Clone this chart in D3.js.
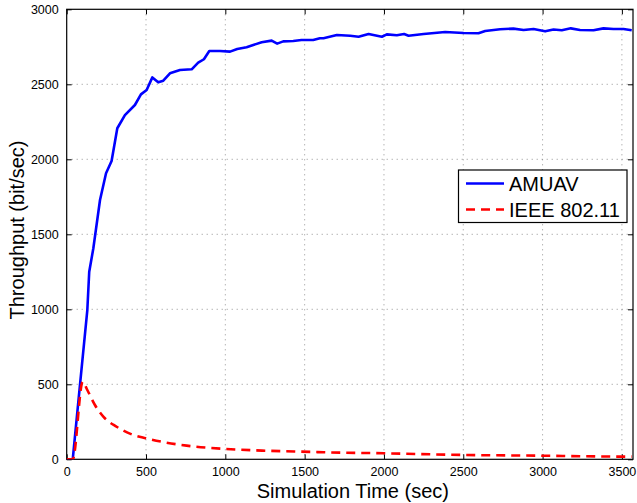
<!DOCTYPE html>
<html>
<head>
<meta charset="utf-8">
<script src="https://cdn.jsdelivr.net/npm/d3@7"></script>
<style>
  html, body { margin: 0; padding: 0; background: #fff; }
  svg { display: block; font-family: "Liberation Sans", Arial, Helvetica, sans-serif; }
</style>
</head>
<body>
<svg id="chart" width="637" height="503"></svg>
<script>
// ---- Data ----
const amuavTime = [0, 38, 84, 130, 142, 168, 210, 248, 283, 319, 367, 430, 468, 504, 540, 577, 609, 651, 714, 788, 829, 865, 899, 966, 1030, 1075, 1134, 1176, 1229, 1292, 1327, 1365, 1428, 1480, 1554, 1596, 1619, 1703, 1787, 1840, 1903, 1987, 2018, 2081, 2127, 2155, 2250, 2386, 2502, 2596, 2638, 2732, 2816, 2880, 2943, 3016, 3069, 3121, 3178, 3236, 3321, 3384, 3447, 3510, 3562];
const amuavThroughput = [0, 0, 500, 995, 1250, 1407, 1729, 1907, 1989, 2207, 2295, 2362, 2433, 2462, 2546, 2513, 2524, 2573, 2595, 2600, 2644, 2667, 2722, 2722, 2718, 2735, 2747, 2762, 2780, 2791, 2771, 2786, 2789, 2795, 2795, 2807, 2807, 2829, 2824, 2817, 2835, 2817, 2833, 2827, 2835, 2824, 2835, 2849, 2842, 2840, 2855, 2867, 2871, 2862, 2869, 2853, 2865, 2860, 2873, 2862, 2860, 2873, 2869, 2869, 2860];

const ieeeTime = [0, 38, 101, 130, 178, 231, 315, 420, 498, 630, 756, 1002, 1260, 1554, 1619, 2000, 2500, 3000, 3510, 3562];
const ieeeThroughput = [0, 0, 517, 462, 362, 284, 217, 162, 140, 111, 91, 69, 57, 49, 47, 40, 29, 24, 18, 18];

const seriesNames = ["AMUAV", "IEEE 802.11"];
const xTicks = [0, 500, 1000, 1500, 2000, 2500, 3000, 3500];
const yTicks = [0, 500, 1000, 1500, 2000, 2500, 3000];
const xLabel = "Simulation Time (sec)";
const yLabel = "Throughput (bit/sec)";

// ---- Layout ----
const svg = d3.select("#chart");
const m = { left: 66.7, right: 633, top: 9.3, bottom: 459.3 };
const x = d3.scaleLinear().domain([0, 3570]).range([m.left, m.right]);
const y = d3.scaleLinear().domain([0, 3000]).range([m.bottom, m.top]);

// Grid
const grid = svg.append("g");
grid.selectAll("line.gx").data(xTicks.filter(d => d > 0)).join("line")
  .attr("x1", d => x(d)).attr("x2", d => x(d))
  .attr("y1", m.top).attr("y2", m.bottom)
  .attr("stroke", "#777").attr("stroke-width", 0.8).attr("stroke-dasharray", "1,4");
grid.selectAll("line.gy").data(yTicks.filter(d => d > 0 && d < 3000)).join("line")
  .attr("x1", m.left).attr("x2", m.right)
  .attr("y1", d => y(d)).attr("y2", d => y(d))
  .attr("stroke", "#777").attr("stroke-width", 0.8).attr("stroke-dasharray", "1,4");

// Axes (ticks inward, all four sides)
const tl = 5;
const fmt = d3.format("d");
const axB = svg.append("g").attr("transform", `translate(0,${m.bottom})`)
  .call(d3.axisBottom(x).tickValues(xTicks).tickFormat(fmt).tickSizeInner(-tl).tickSizeOuter(0).tickPadding(7.5));
const axT = svg.append("g").attr("transform", `translate(0,${m.top})`)
  .call(d3.axisTop(x).tickValues(xTicks).tickFormat("").tickSizeInner(-tl).tickSizeOuter(0));
const axL = svg.append("g").attr("transform", `translate(${m.left},0)`)
  .call(d3.axisLeft(y).tickValues(yTicks).tickFormat(fmt).tickSizeInner(-tl).tickSizeOuter(0).tickPadding(8));
const axR = svg.append("g").attr("transform", `translate(${m.right},0)`)
  .call(d3.axisRight(y).tickValues(yTicks).tickFormat("").tickSizeInner(-tl).tickSizeOuter(0));
[axB, axT, axL, axR].forEach(a => {
  a.select(".domain").remove();
  a.selectAll(".tick line").attr("stroke", "#000").attr("stroke-width", 1);
  a.selectAll("text").attr("font-size", 12.5).attr("fill", "#000")
    .attr("font-family", "'Liberation Sans', Arial, sans-serif");
});
// Box
svg.append("rect").attr("x", m.left).attr("y", m.top)
  .attr("width", m.right - m.left).attr("height", m.bottom - m.top)
  .attr("fill", "none").attr("stroke", "#000").attr("stroke-width", 1.2);

// Lines
const clip = svg.append("clipPath").attr("id", "clip").append("rect")
  .attr("x", m.left).attr("y", m.top - 2).attr("width", m.right - m.left).attr("height", m.bottom - m.top + 2);
const line = d3.line().x(d => x(d[0])).y(d => y(d[1]));
const amuav = amuavTime.map((t, i) => [t, amuavThroughput[i]]);
const ieee = ieeeTime.map((t, i) => [t, ieeeThroughput[i]]);
const lines = svg.append("g").attr("clip-path", "url(#clip)");
lines.append("path").datum(amuav).attr("d", line)
  .attr("fill", "none").attr("stroke", "#0000ff").attr("stroke-width", 2.6).attr("stroke-linejoin", "round");
lines.append("path").datum(ieee).attr("d", line.curve(d3.curveMonotoneX))
  .attr("fill", "none").attr("stroke", "#ff0000").attr("stroke-width", 2.6).attr("stroke-dasharray", "9,6");

// Axis titles
svg.append("text").attr("x", (m.left + m.right) / 2 + 3).attr("y", 498)
  .attr("text-anchor", "middle").attr("font-size", 20).text(xLabel);
svg.append("text").attr("transform", `translate(24,230) rotate(-90)`)
  .attr("text-anchor", "middle").attr("font-size", 20).text(yLabel);

// Legend
const lg = svg.append("g");
lg.append("rect").attr("x", 458.5).attr("y", 170).attr("width", 168.5).attr("height", 52.5)
  .attr("fill", "#fff").attr("stroke", "#000").attr("stroke-width", 1.2);
const colors = ["#0000ff", "#ff0000"];
const dashes = [null, "9,6"];
seriesNames.forEach((n, i) => {
  const yy = 183.5 + i * 26;
  lg.append("line").attr("x1", 466).attr("x2", 504).attr("y1", yy).attr("y2", yy)
    .attr("stroke", colors[i]).attr("stroke-width", 2.6).attr("stroke-dasharray", dashes[i]);
  lg.append("text").attr("x", 509).attr("y", yy + 7).attr("font-size", 20).text(n);
});
</script>
</body>
</html>
